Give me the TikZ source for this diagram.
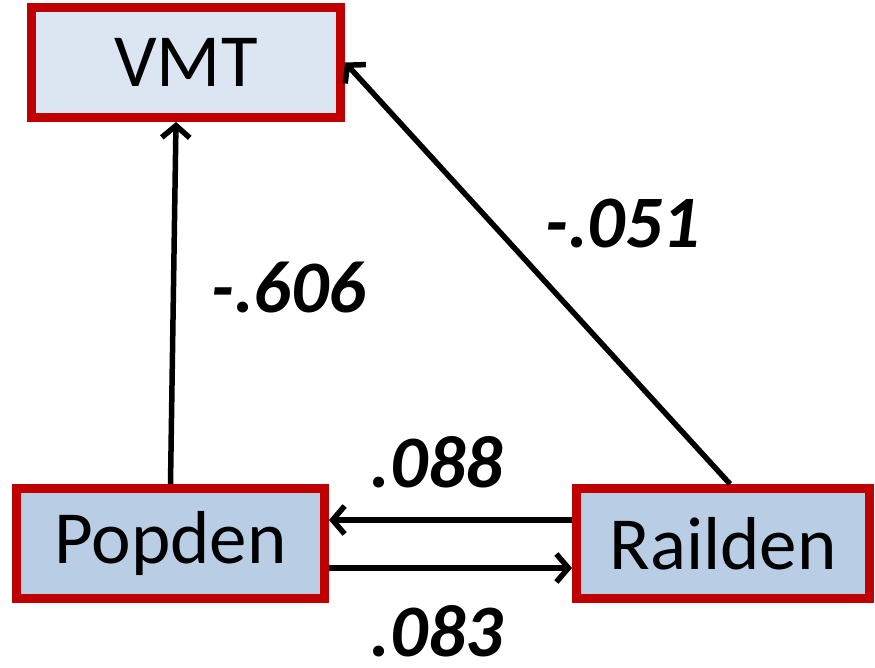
\documentclass[tikz,border=0pt]{standalone}
\usepackage{fontspec}
\setmainfont{Carlito}
\usetikzlibrary{arrows.meta,calc}
\definecolor{bred}{HTML}{C00000}
\definecolor{lightfill}{HTML}{DCE6F2}
\definecolor{midfill}{HTML}{B9CDE5}
\begin{document}
\begin{tikzpicture}[x=1pt,y=-1pt,
  box/.style={draw=bred, line width=9pt, minimum height=110pt, inner sep=0pt,
    font=\fontsize{75}{80}\selectfont},
  conn/.style={draw=black, line width=5.5pt, -{Straight Barb[length=12pt,width=28pt,line width=5.5pt]}},
  coef/.style={anchor=base, font=\fontsize{74}{80}\selectfont\bfseries\itshape}]
\useasboundingbox (0,0) rectangle (875,667);
\node[box, fill=lightfill, minimum width=309pt] (vmt) at (186,62.5) {VMT};
\node[box, fill=midfill, minimum width=308pt] (pop) at (170.5,543.5) {Popden};
\node[box, fill=midfill, minimum width=293pt] (rail) at (723,543.5) {Railden};
\path[conn] (pop.north) -- ($(vmt.south)+(-10,0)$);
\path[conn] ($(rail.north)+(7,0)$) -- (vmt.east);
\path[conn] ($(rail.west)+(0,-23.5)$) -- ($(pop.east)+(0,-23.5)$);
\path[conn] ($(pop.east)+(0,24.5)$) -- ($(rail.west)+(0,24.5)$);
\node[coef] (l1) at (289,312) {-.606};
\node[coef] (l2) at (623,247) {-.051};
\node[coef] (l3) at (437,487) {.088};
\node[coef] (l4) at (437,656) {.083};
\end{tikzpicture}
\end{document}
